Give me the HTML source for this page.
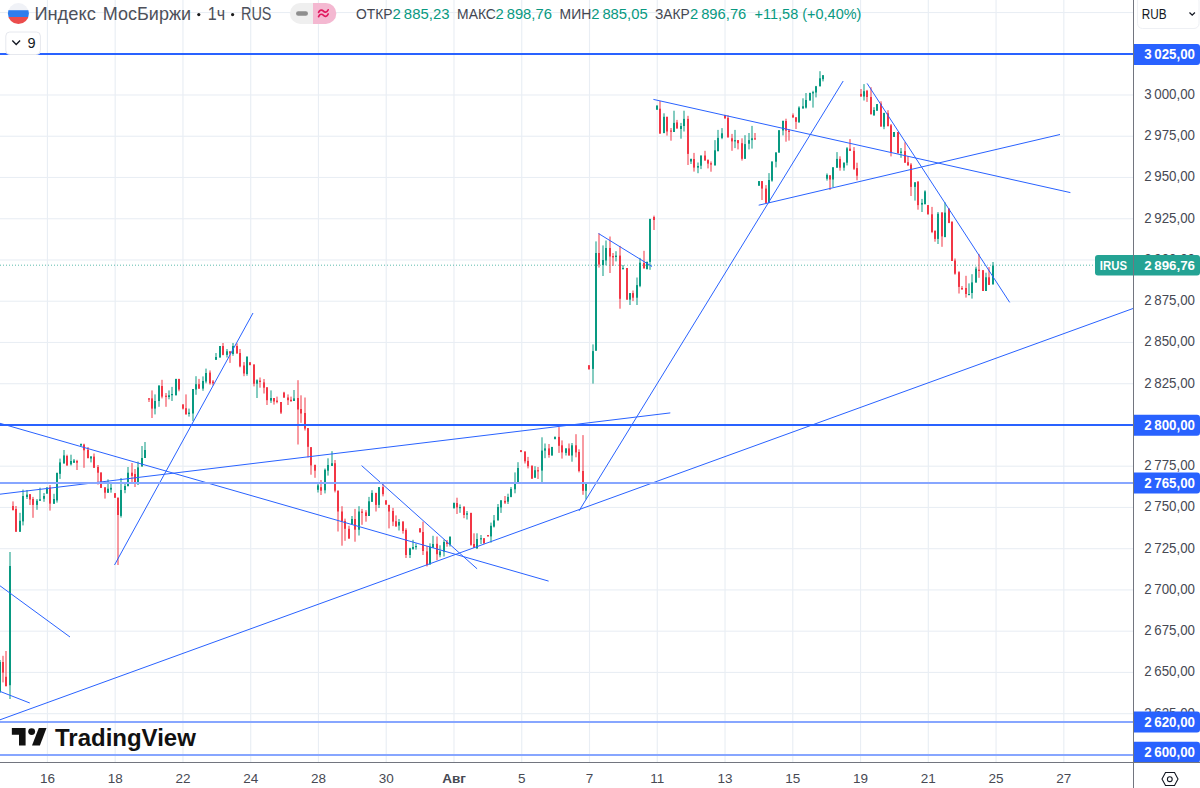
<!DOCTYPE html>
<html><head><meta charset="utf-8"><title>IMOEX 1h</title>
<style>
html,body{margin:0;padding:0;background:#ffffff;}
body{width:1200px;height:788px;overflow:hidden;font-family:"Liberation Sans",sans-serif;}
svg{display:block;}
</style></head>
<body>
<svg width="1200" height="788" viewBox="0 0 1200 788">
<rect width="1200" height="788" fill="#ffffff"/>
<rect x="46.85" y="0" width="1.15" height="762" fill="#e9eef4"/>
<rect x="114.61" y="0" width="1.15" height="762" fill="#e9eef4"/>
<rect x="182.37" y="0" width="1.15" height="762" fill="#e9eef4"/>
<rect x="250.13" y="0" width="1.15" height="762" fill="#e9eef4"/>
<rect x="317.89" y="0" width="1.15" height="762" fill="#e9eef4"/>
<rect x="385.65" y="0" width="1.15" height="762" fill="#e9eef4"/>
<rect x="453.41" y="0" width="1.15" height="762" fill="#e9eef4"/>
<rect x="521.17" y="0" width="1.15" height="762" fill="#e9eef4"/>
<rect x="588.93" y="0" width="1.15" height="762" fill="#e9eef4"/>
<rect x="656.69" y="0" width="1.15" height="762" fill="#e9eef4"/>
<rect x="724.45" y="0" width="1.15" height="762" fill="#e9eef4"/>
<rect x="792.21" y="0" width="1.15" height="762" fill="#e9eef4"/>
<rect x="859.97" y="0" width="1.15" height="762" fill="#e9eef4"/>
<rect x="927.73" y="0" width="1.15" height="762" fill="#e9eef4"/>
<rect x="995.49" y="0" width="1.15" height="762" fill="#e9eef4"/>
<rect x="1063.25" y="0" width="1.15" height="762" fill="#e9eef4"/>
<rect x="0" y="11.96" width="1133" height="1.1" fill="#e9eef4"/>
<rect x="0" y="53.20" width="1133" height="1.1" fill="#e9eef4"/>
<rect x="0" y="94.44" width="1133" height="1.1" fill="#e9eef4"/>
<rect x="0" y="135.69" width="1133" height="1.1" fill="#e9eef4"/>
<rect x="0" y="176.94" width="1133" height="1.1" fill="#e9eef4"/>
<rect x="0" y="218.18" width="1133" height="1.1" fill="#e9eef4"/>
<rect x="0" y="259.43" width="1133" height="1.1" fill="#e9eef4"/>
<rect x="0" y="300.67" width="1133" height="1.1" fill="#e9eef4"/>
<rect x="0" y="341.92" width="1133" height="1.1" fill="#e9eef4"/>
<rect x="0" y="383.16" width="1133" height="1.1" fill="#e9eef4"/>
<rect x="0" y="424.41" width="1133" height="1.1" fill="#e9eef4"/>
<rect x="0" y="465.65" width="1133" height="1.1" fill="#e9eef4"/>
<rect x="0" y="506.90" width="1133" height="1.1" fill="#e9eef4"/>
<rect x="0" y="548.14" width="1133" height="1.1" fill="#e9eef4"/>
<rect x="0" y="589.38" width="1133" height="1.1" fill="#e9eef4"/>
<rect x="0" y="630.63" width="1133" height="1.1" fill="#e9eef4"/>
<rect x="0" y="671.88" width="1133" height="1.1" fill="#e9eef4"/>
<rect x="0" y="713.12" width="1133" height="1.1" fill="#e9eef4"/>
<g shape-rendering="auto"><rect x="-0.50" y="660.00" width="1" height="33.00" fill="#089981"/>
<rect x="-1" y="662.00" width="2" height="29.00" fill="#089981"/>
<rect x="2.50" y="655.80" width="1" height="26.60" fill="#F23645"/>
<rect x="2" y="662.00" width="2" height="10.60" fill="#F23645"/>
<rect x="5.50" y="651.00" width="1" height="35.60" fill="#F23645"/>
<rect x="5" y="676.80" width="2" height="9.20" fill="#F23645"/>
<rect x="9.50" y="552.00" width="1" height="147.00" fill="#089981"/>
<rect x="9" y="566.00" width="2" height="119.20" fill="#089981"/>
<rect x="12.50" y="501.40" width="1" height="9.20" fill="#F23645"/>
<rect x="12" y="506.00" width="2" height="4.00" fill="#F23645"/>
<rect x="15.50" y="506.00" width="1" height="26.00" fill="#F23645"/>
<rect x="15" y="509.00" width="2" height="22.70" fill="#F23645"/>
<rect x="19.50" y="512.80" width="1" height="19.20" fill="#089981"/>
<rect x="19" y="520.80" width="2" height="10.90" fill="#089981"/>
<rect x="22.50" y="489.60" width="1" height="35.80" fill="#089981"/>
<rect x="22" y="496.00" width="2" height="25.40" fill="#089981"/>
<rect x="26.50" y="490.00" width="1" height="9.00" fill="#089981"/>
<rect x="26" y="494.60" width="2" height="2.40" fill="#089981"/>
<rect x="29.50" y="494.00" width="1" height="11.00" fill="#F23645"/>
<rect x="29" y="494.20" width="2" height="5.30" fill="#F23645"/>
<rect x="32.50" y="496.90" width="1" height="20.90" fill="#F23645"/>
<rect x="32" y="499.00" width="2" height="5.90" fill="#F23645"/>
<rect x="36.50" y="499.00" width="1" height="10.80" fill="#089981"/>
<rect x="36" y="500.70" width="2" height="4.20" fill="#089981"/>
<rect x="39.50" y="487.70" width="1" height="13.30" fill="#089981"/>
<rect x="39" y="499.30" width="2" height="1.40" fill="#089981"/>
<rect x="43.50" y="493.00" width="1" height="8.80" fill="#089981"/>
<rect x="43" y="496.00" width="2" height="2.80" fill="#089981"/>
<rect x="46.50" y="487.00" width="1" height="7.00" fill="#089981"/>
<rect x="46" y="487.70" width="2" height="5.80" fill="#089981"/>
<rect x="49.50" y="485.00" width="1" height="25.60" fill="#F23645"/>
<rect x="49" y="487.40" width="2" height="16.20" fill="#F23645"/>
<rect x="53.50" y="493.80" width="1" height="10.20" fill="#089981"/>
<rect x="53" y="499.00" width="2" height="4.70" fill="#089981"/>
<rect x="56.50" y="472.50" width="1" height="30.10" fill="#089981"/>
<rect x="56" y="473.00" width="2" height="27.40" fill="#089981"/>
<rect x="59.50" y="458.60" width="1" height="20.30" fill="#089981"/>
<rect x="59" y="462.40" width="2" height="11.40" fill="#089981"/>
<rect x="63.50" y="450.00" width="1" height="14.00" fill="#089981"/>
<rect x="63" y="455.40" width="2" height="7.80" fill="#089981"/>
<rect x="66.50" y="454.70" width="1" height="11.30" fill="#F23645"/>
<rect x="66" y="456.00" width="2" height="9.30" fill="#F23645"/>
<rect x="70.50" y="454.70" width="1" height="10.80" fill="#089981"/>
<rect x="70" y="461.00" width="2" height="3.30" fill="#089981"/>
<rect x="73.50" y="459.00" width="1" height="4.00" fill="#089981"/>
<rect x="73" y="460.50" width="2" height="2.20" fill="#089981"/>
<rect x="76.50" y="459.80" width="1" height="10.20" fill="#F23645"/>
<rect x="76" y="461.00" width="2" height="1.70" fill="#F23645"/>
<rect x="80.50" y="443.50" width="1" height="2.50" fill="#089981"/>
<rect x="80" y="444.00" width="2" height="1.50" fill="#089981"/>
<rect x="83.50" y="443.70" width="1" height="24.10" fill="#F23645"/>
<rect x="83" y="444.60" width="2" height="5.70" fill="#F23645"/>
<rect x="87.50" y="447.00" width="1" height="11.50" fill="#F23645"/>
<rect x="87" y="449.70" width="2" height="8.30" fill="#F23645"/>
<rect x="90.50" y="456.00" width="1" height="6.40" fill="#089981"/>
<rect x="90" y="456.60" width="2" height="1.90" fill="#089981"/>
<rect x="93.50" y="453.50" width="1" height="14.30" fill="#F23645"/>
<rect x="93" y="456.60" width="2" height="11.20" fill="#F23645"/>
<rect x="97.50" y="465.00" width="1" height="19.60" fill="#F23645"/>
<rect x="97" y="467.00" width="2" height="5.70" fill="#F23645"/>
<rect x="100.50" y="472.00" width="1" height="16.00" fill="#F23645"/>
<rect x="100" y="472.70" width="2" height="15.10" fill="#F23645"/>
<rect x="104.50" y="487.00" width="1" height="11.60" fill="#F23645"/>
<rect x="104" y="487.40" width="2" height="5.30" fill="#F23645"/>
<rect x="107.50" y="479.40" width="1" height="13.60" fill="#089981"/>
<rect x="107" y="488.70" width="2" height="4.00" fill="#089981"/>
<rect x="110.50" y="483.00" width="1" height="9.70" fill="#089981"/>
<rect x="110" y="487.80" width="2" height="1.80" fill="#089981"/>
<rect x="114.50" y="493.00" width="1" height="5.00" fill="#F23645"/>
<rect x="114" y="493.20" width="2" height="4.50" fill="#F23645"/>
<rect x="117.50" y="497.60" width="1" height="67.40" fill="#F23645"/>
<rect x="117" y="497.70" width="2" height="17.30" fill="#F23645"/>
<rect x="120.50" y="478.00" width="1" height="39.60" fill="#089981"/>
<rect x="120" y="490.00" width="2" height="25.90" fill="#089981"/>
<rect x="124.50" y="483.00" width="1" height="10.20" fill="#089981"/>
<rect x="124" y="486.00" width="2" height="4.00" fill="#089981"/>
<rect x="127.50" y="467.00" width="1" height="19.50" fill="#089981"/>
<rect x="127" y="472.70" width="2" height="13.30" fill="#089981"/>
<rect x="131.50" y="463.00" width="1" height="20.80" fill="#F23645"/>
<rect x="131" y="472.70" width="2" height="3.20" fill="#F23645"/>
<rect x="134.50" y="469.00" width="1" height="18.00" fill="#F23645"/>
<rect x="134" y="474.00" width="2" height="9.00" fill="#F23645"/>
<rect x="137.50" y="461.60" width="1" height="23.10" fill="#089981"/>
<rect x="137" y="467.40" width="2" height="16.90" fill="#089981"/>
<rect x="141.50" y="446.00" width="1" height="20.50" fill="#089981"/>
<rect x="141" y="458.00" width="2" height="8.50" fill="#089981"/>
<rect x="144.50" y="442.00" width="1" height="16.00" fill="#089981"/>
<rect x="144" y="450.00" width="2" height="8.00" fill="#089981"/>
<rect x="148.50" y="398.00" width="1" height="4.00" fill="#F23645"/>
<rect x="148" y="398.40" width="2" height="1.20" fill="#F23645"/>
<rect x="151.50" y="390.40" width="1" height="27.60" fill="#F23645"/>
<rect x="151" y="398.40" width="2" height="10.20" fill="#F23645"/>
<rect x="154.50" y="394.40" width="1" height="20.00" fill="#089981"/>
<rect x="154" y="401.00" width="2" height="7.60" fill="#089981"/>
<rect x="158.50" y="385.50" width="1" height="21.30" fill="#089981"/>
<rect x="158" y="385.50" width="2" height="15.50" fill="#089981"/>
<rect x="161.50" y="379.80" width="1" height="18.60" fill="#F23645"/>
<rect x="161" y="386.00" width="2" height="10.60" fill="#F23645"/>
<rect x="165.50" y="393.00" width="1" height="13.80" fill="#F23645"/>
<rect x="165" y="395.70" width="2" height="1.20" fill="#F23645"/>
<rect x="168.50" y="390.40" width="1" height="8.90" fill="#089981"/>
<rect x="168" y="395.30" width="2" height="1.70" fill="#089981"/>
<rect x="171.50" y="386.90" width="1" height="14.10" fill="#089981"/>
<rect x="171" y="394.00" width="2" height="1.20" fill="#089981"/>
<rect x="175.50" y="378.90" width="1" height="16.40" fill="#089981"/>
<rect x="175" y="378.90" width="2" height="16.40" fill="#089981"/>
<rect x="178.50" y="378.90" width="1" height="12.40" fill="#F23645"/>
<rect x="178" y="378.90" width="2" height="10.60" fill="#F23645"/>
<rect x="182.50" y="404.00" width="1" height="5.50" fill="#F23645"/>
<rect x="182" y="404.60" width="2" height="4.00" fill="#F23645"/>
<rect x="185.50" y="394.40" width="1" height="20.00" fill="#F23645"/>
<rect x="185" y="408.20" width="2" height="6.20" fill="#F23645"/>
<rect x="188.50" y="408.60" width="1" height="8.00" fill="#089981"/>
<rect x="188" y="412.60" width="2" height="1.40" fill="#089981"/>
<rect x="192.50" y="389.00" width="1" height="32.00" fill="#089981"/>
<rect x="192" y="389.00" width="2" height="24.50" fill="#089981"/>
<rect x="195.50" y="376.20" width="1" height="18.60" fill="#089981"/>
<rect x="195" y="384.20" width="2" height="5.30" fill="#089981"/>
<rect x="198.50" y="378.90" width="1" height="10.10" fill="#F23645"/>
<rect x="198" y="384.20" width="2" height="4.40" fill="#F23645"/>
<rect x="202.50" y="376.40" width="1" height="14.40" fill="#089981"/>
<rect x="202" y="381.00" width="2" height="7.60" fill="#089981"/>
<rect x="205.50" y="368.60" width="1" height="14.70" fill="#089981"/>
<rect x="205" y="373.00" width="2" height="8.50" fill="#089981"/>
<rect x="209.50" y="370.40" width="1" height="14.20" fill="#F23645"/>
<rect x="209" y="372.60" width="2" height="10.70" fill="#F23645"/>
<rect x="212.50" y="380.00" width="1" height="5.50" fill="#F23645"/>
<rect x="212" y="381.50" width="2" height="1.80" fill="#F23645"/>
<rect x="215.50" y="353.00" width="1" height="6.80" fill="#089981"/>
<rect x="215" y="357.00" width="2" height="2.80" fill="#089981"/>
<rect x="219.50" y="346.00" width="1" height="11.50" fill="#089981"/>
<rect x="219" y="346.00" width="2" height="11.50" fill="#089981"/>
<rect x="222.50" y="343.00" width="1" height="12.30" fill="#F23645"/>
<rect x="222" y="346.00" width="2" height="8.90" fill="#F23645"/>
<rect x="226.50" y="349.00" width="1" height="8.50" fill="#089981"/>
<rect x="226" y="351.30" width="2" height="3.60" fill="#089981"/>
<rect x="229.50" y="351.30" width="1" height="11.60" fill="#F23645"/>
<rect x="229" y="351.30" width="2" height="2.20" fill="#F23645"/>
<rect x="232.50" y="343.00" width="1" height="12.80" fill="#089981"/>
<rect x="232" y="346.00" width="2" height="8.00" fill="#089981"/>
<rect x="236.50" y="343.30" width="1" height="10.20" fill="#F23645"/>
<rect x="236" y="346.00" width="2" height="7.50" fill="#F23645"/>
<rect x="239.50" y="349.00" width="1" height="18.30" fill="#F23645"/>
<rect x="239" y="353.00" width="2" height="13.40" fill="#F23645"/>
<rect x="243.50" y="362.00" width="1" height="14.20" fill="#F23645"/>
<rect x="243" y="365.50" width="2" height="8.00" fill="#F23645"/>
<rect x="246.50" y="356.60" width="1" height="19.10" fill="#089981"/>
<rect x="246" y="356.60" width="2" height="17.40" fill="#089981"/>
<rect x="249.50" y="362.00" width="1" height="3.40" fill="#F23645"/>
<rect x="249" y="362.40" width="2" height="2.60" fill="#F23645"/>
<rect x="253.50" y="364.20" width="1" height="22.20" fill="#F23645"/>
<rect x="253" y="364.60" width="2" height="19.10" fill="#F23645"/>
<rect x="256.50" y="379.30" width="1" height="18.70" fill="#089981"/>
<rect x="256" y="380.20" width="2" height="3.50" fill="#089981"/>
<rect x="259.50" y="377.50" width="1" height="10.20" fill="#F23645"/>
<rect x="259" y="380.60" width="2" height="1.40" fill="#F23645"/>
<rect x="263.50" y="379.00" width="1" height="14.50" fill="#F23645"/>
<rect x="263" y="382.40" width="2" height="5.30" fill="#F23645"/>
<rect x="266.50" y="387.30" width="1" height="17.70" fill="#F23645"/>
<rect x="266" y="387.30" width="2" height="12.90" fill="#F23645"/>
<rect x="270.50" y="390.40" width="1" height="12.50" fill="#089981"/>
<rect x="270" y="398.00" width="2" height="2.60" fill="#089981"/>
<rect x="273.50" y="398.00" width="1" height="6.60" fill="#F23645"/>
<rect x="273" y="398.00" width="2" height="3.50" fill="#F23645"/>
<rect x="276.50" y="396.60" width="1" height="6.70" fill="#F23645"/>
<rect x="276" y="400.60" width="2" height="1.40" fill="#F23645"/>
<rect x="280.50" y="402.00" width="1" height="12.00" fill="#F23645"/>
<rect x="280" y="402.00" width="2" height="10.60" fill="#F23645"/>
<rect x="283.50" y="391.80" width="1" height="6.20" fill="#F23645"/>
<rect x="283" y="392.60" width="2" height="4.90" fill="#F23645"/>
<rect x="287.50" y="394.40" width="1" height="10.60" fill="#F23645"/>
<rect x="287" y="397.50" width="2" height="2.70" fill="#F23645"/>
<rect x="290.50" y="396.60" width="1" height="5.40" fill="#F23645"/>
<rect x="290" y="399.80" width="2" height="1.20" fill="#F23645"/>
<rect x="293.50" y="390.00" width="1" height="11.00" fill="#089981"/>
<rect x="293" y="398.40" width="2" height="2.60" fill="#089981"/>
<rect x="297.50" y="380.20" width="1" height="64.30" fill="#F23645"/>
<rect x="297" y="398.00" width="2" height="11.50" fill="#F23645"/>
<rect x="300.50" y="395.30" width="1" height="27.50" fill="#F23645"/>
<rect x="300" y="409.00" width="2" height="4.50" fill="#F23645"/>
<rect x="304.50" y="397.50" width="1" height="33.00" fill="#F23645"/>
<rect x="304" y="413.00" width="2" height="15.60" fill="#F23645"/>
<rect x="307.50" y="428.00" width="1" height="29.40" fill="#F23645"/>
<rect x="307" y="428.10" width="2" height="18.70" fill="#F23645"/>
<rect x="310.50" y="447.00" width="1" height="27.70" fill="#F23645"/>
<rect x="310" y="447.20" width="2" height="18.20" fill="#F23645"/>
<rect x="314.50" y="464.50" width="1" height="13.30" fill="#F23645"/>
<rect x="314" y="465.00" width="2" height="5.70" fill="#F23645"/>
<rect x="317.50" y="484.00" width="1" height="8.50" fill="#089981"/>
<rect x="317" y="485.40" width="2" height="4.40" fill="#089981"/>
<rect x="320.50" y="480.00" width="1" height="15.00" fill="#F23645"/>
<rect x="320" y="487.20" width="2" height="3.50" fill="#F23645"/>
<rect x="324.50" y="468.50" width="1" height="24.90" fill="#089981"/>
<rect x="324" y="469.80" width="2" height="20.50" fill="#089981"/>
<rect x="327.50" y="458.30" width="1" height="17.30" fill="#089981"/>
<rect x="327" y="465.00" width="2" height="5.70" fill="#089981"/>
<rect x="331.50" y="451.20" width="1" height="14.70" fill="#089981"/>
<rect x="331" y="463.20" width="2" height="2.70" fill="#089981"/>
<rect x="334.50" y="460.00" width="1" height="32.40" fill="#F23645"/>
<rect x="334" y="463.20" width="2" height="27.50" fill="#F23645"/>
<rect x="337.50" y="490.50" width="1" height="41.00" fill="#F23645"/>
<rect x="337" y="490.70" width="2" height="20.80" fill="#F23645"/>
<rect x="341.50" y="506.20" width="1" height="39.50" fill="#F23645"/>
<rect x="341" y="511.50" width="2" height="9.80" fill="#F23645"/>
<rect x="344.50" y="518.60" width="1" height="22.20" fill="#F23645"/>
<rect x="344" y="520.90" width="2" height="7.90" fill="#F23645"/>
<rect x="348.50" y="525.70" width="1" height="12.90" fill="#F23645"/>
<rect x="348" y="528.80" width="2" height="9.80" fill="#F23645"/>
<rect x="351.50" y="516.00" width="1" height="8.40" fill="#089981"/>
<rect x="351" y="519.00" width="2" height="5.40" fill="#089981"/>
<rect x="354.50" y="508.90" width="1" height="32.80" fill="#F23645"/>
<rect x="354" y="519.00" width="2" height="10.70" fill="#F23645"/>
<rect x="358.50" y="506.20" width="1" height="29.30" fill="#089981"/>
<rect x="358" y="511.50" width="2" height="18.20" fill="#089981"/>
<rect x="361.50" y="508.90" width="1" height="15.90" fill="#F23645"/>
<rect x="361" y="511.50" width="2" height="1.40" fill="#F23645"/>
<rect x="365.50" y="510.20" width="1" height="11.50" fill="#F23645"/>
<rect x="365" y="512.40" width="2" height="3.60" fill="#F23645"/>
<rect x="368.50" y="496.90" width="1" height="19.10" fill="#089981"/>
<rect x="368" y="501.30" width="2" height="14.70" fill="#089981"/>
<rect x="371.50" y="490.20" width="1" height="11.60" fill="#089981"/>
<rect x="371" y="492.90" width="2" height="8.90" fill="#089981"/>
<rect x="375.50" y="492.90" width="1" height="18.60" fill="#F23645"/>
<rect x="375" y="492.90" width="2" height="12.00" fill="#F23645"/>
<rect x="378.50" y="487.10" width="1" height="20.90" fill="#089981"/>
<rect x="378" y="487.10" width="2" height="17.80" fill="#089981"/>
<rect x="382.50" y="483.60" width="1" height="12.80" fill="#F23645"/>
<rect x="382" y="487.10" width="2" height="7.10" fill="#F23645"/>
<rect x="385.50" y="500.00" width="1" height="5.00" fill="#F23645"/>
<rect x="385" y="500.40" width="2" height="4.00" fill="#F23645"/>
<rect x="388.50" y="504.90" width="1" height="23.50" fill="#F23645"/>
<rect x="388" y="504.90" width="2" height="6.60" fill="#F23645"/>
<rect x="392.50" y="507.90" width="1" height="18.20" fill="#F23645"/>
<rect x="392" y="511.00" width="2" height="10.60" fill="#F23645"/>
<rect x="395.50" y="515.40" width="1" height="11.10" fill="#F23645"/>
<rect x="395" y="521.20" width="2" height="5.30" fill="#F23645"/>
<rect x="398.50" y="519.00" width="1" height="11.50" fill="#089981"/>
<rect x="398" y="522.00" width="2" height="3.60" fill="#089981"/>
<rect x="402.50" y="521.20" width="1" height="12.40" fill="#F23645"/>
<rect x="402" y="521.60" width="2" height="9.40" fill="#F23645"/>
<rect x="405.50" y="528.30" width="1" height="29.70" fill="#F23645"/>
<rect x="405" y="530.00" width="2" height="25.00" fill="#F23645"/>
<rect x="409.50" y="547.80" width="1" height="10.20" fill="#089981"/>
<rect x="409" y="548.30" width="2" height="6.70" fill="#089981"/>
<rect x="412.50" y="539.80" width="1" height="9.80" fill="#089981"/>
<rect x="412" y="547.00" width="2" height="2.10" fill="#089981"/>
<rect x="415.50" y="543.40" width="1" height="6.20" fill="#089981"/>
<rect x="415" y="546.00" width="2" height="1.20" fill="#089981"/>
<rect x="419.50" y="528.00" width="1" height="4.50" fill="#F23645"/>
<rect x="419" y="528.30" width="2" height="4.00" fill="#F23645"/>
<rect x="422.50" y="521.60" width="1" height="33.40" fill="#F23645"/>
<rect x="422" y="532.00" width="2" height="19.00" fill="#F23645"/>
<rect x="426.50" y="546.00" width="1" height="20.40" fill="#F23645"/>
<rect x="426" y="551.40" width="2" height="13.70" fill="#F23645"/>
<rect x="429.50" y="543.30" width="1" height="21.30" fill="#089981"/>
<rect x="429" y="546.70" width="2" height="17.70" fill="#089981"/>
<rect x="432.50" y="535.80" width="1" height="12.20" fill="#089981"/>
<rect x="432" y="544.00" width="2" height="3.60" fill="#089981"/>
<rect x="436.50" y="536.50" width="1" height="23.70" fill="#F23645"/>
<rect x="436" y="543.80" width="2" height="10.40" fill="#F23645"/>
<rect x="439.50" y="545.30" width="1" height="12.00" fill="#089981"/>
<rect x="439" y="551.40" width="2" height="3.80" fill="#089981"/>
<rect x="443.50" y="539.60" width="1" height="16.90" fill="#089981"/>
<rect x="443" y="542.00" width="2" height="9.60" fill="#089981"/>
<rect x="446.50" y="540.00" width="1" height="6.70" fill="#F23645"/>
<rect x="446" y="542.20" width="2" height="1.80" fill="#F23645"/>
<rect x="449.50" y="536.50" width="1" height="10.00" fill="#089981"/>
<rect x="449" y="536.70" width="2" height="8.00" fill="#089981"/>
<rect x="453.50" y="502.50" width="1" height="5.80" fill="#089981"/>
<rect x="453" y="503.00" width="2" height="5.30" fill="#089981"/>
<rect x="456.50" y="497.70" width="1" height="16.30" fill="#F23645"/>
<rect x="456" y="503.00" width="2" height="4.40" fill="#F23645"/>
<rect x="459.50" y="504.40" width="1" height="8.40" fill="#089981"/>
<rect x="459" y="507.00" width="2" height="1.20" fill="#089981"/>
<rect x="463.50" y="506.60" width="1" height="11.60" fill="#F23645"/>
<rect x="463" y="506.60" width="2" height="8.40" fill="#F23645"/>
<rect x="466.50" y="511.00" width="1" height="8.50" fill="#089981"/>
<rect x="466" y="513.30" width="2" height="1.40" fill="#089981"/>
<rect x="470.50" y="512.80" width="1" height="32.90" fill="#F23645"/>
<rect x="470" y="512.90" width="2" height="31.90" fill="#F23645"/>
<rect x="473.50" y="533.30" width="1" height="14.70" fill="#F23645"/>
<rect x="473" y="544.00" width="2" height="3.50" fill="#F23645"/>
<rect x="476.50" y="533.30" width="1" height="15.50" fill="#089981"/>
<rect x="476" y="539.00" width="2" height="9.40" fill="#089981"/>
<rect x="480.50" y="535.00" width="1" height="9.00" fill="#089981"/>
<rect x="480" y="538.20" width="2" height="1.20" fill="#089981"/>
<rect x="483.50" y="538.20" width="1" height="5.40" fill="#F23645"/>
<rect x="483" y="538.20" width="2" height="5.30" fill="#F23645"/>
<rect x="487.50" y="535.00" width="1" height="1.50" fill="#F23645"/>
<rect x="487" y="535.00" width="2" height="1.40" fill="#F23645"/>
<rect x="490.50" y="522.60" width="1" height="20.00" fill="#089981"/>
<rect x="490" y="525.80" width="2" height="10.60" fill="#089981"/>
<rect x="493.50" y="515.00" width="1" height="12.50" fill="#089981"/>
<rect x="493" y="520.40" width="2" height="6.20" fill="#089981"/>
<rect x="497.50" y="504.00" width="1" height="16.40" fill="#089981"/>
<rect x="497" y="507.00" width="2" height="13.40" fill="#089981"/>
<rect x="500.50" y="500.00" width="1" height="12.90" fill="#089981"/>
<rect x="500" y="500.40" width="2" height="7.10" fill="#089981"/>
<rect x="504.50" y="496.00" width="1" height="8.00" fill="#F23645"/>
<rect x="504" y="500.90" width="2" height="1.70" fill="#F23645"/>
<rect x="507.50" y="493.70" width="1" height="10.30" fill="#089981"/>
<rect x="507" y="496.90" width="2" height="4.80" fill="#089981"/>
<rect x="510.50" y="487.00" width="1" height="10.30" fill="#089981"/>
<rect x="510" y="488.90" width="2" height="8.00" fill="#089981"/>
<rect x="514.50" y="472.40" width="1" height="20.90" fill="#089981"/>
<rect x="514" y="482.20" width="2" height="7.10" fill="#089981"/>
<rect x="517.50" y="462.20" width="1" height="20.80" fill="#089981"/>
<rect x="517" y="468.00" width="2" height="14.40" fill="#089981"/>
<rect x="520.50" y="450.20" width="1" height="2.00" fill="#F23645"/>
<rect x="520" y="450.20" width="2" height="1.80" fill="#F23645"/>
<rect x="524.50" y="451.50" width="1" height="12.00" fill="#F23645"/>
<rect x="524" y="451.50" width="2" height="9.80" fill="#F23645"/>
<rect x="527.50" y="456.90" width="1" height="11.50" fill="#F23645"/>
<rect x="527" y="460.90" width="2" height="5.30" fill="#F23645"/>
<rect x="531.50" y="465.50" width="1" height="13.50" fill="#F23645"/>
<rect x="531" y="465.70" width="2" height="12.90" fill="#F23645"/>
<rect x="534.50" y="466.20" width="1" height="11.50" fill="#089981"/>
<rect x="534" y="470.20" width="2" height="7.50" fill="#089981"/>
<rect x="537.50" y="467.00" width="1" height="12.00" fill="#F23645"/>
<rect x="537" y="470.20" width="2" height="1.20" fill="#F23645"/>
<rect x="541.50" y="437.30" width="1" height="45.30" fill="#089981"/>
<rect x="541" y="450.60" width="2" height="20.00" fill="#089981"/>
<rect x="544.50" y="443.50" width="1" height="14.70" fill="#089981"/>
<rect x="544" y="448.40" width="2" height="2.20" fill="#089981"/>
<rect x="548.50" y="444.00" width="1" height="13.70" fill="#F23645"/>
<rect x="548" y="448.40" width="2" height="6.60" fill="#F23645"/>
<rect x="551.50" y="446.80" width="1" height="8.80" fill="#089981"/>
<rect x="551" y="447.00" width="2" height="8.50" fill="#089981"/>
<rect x="554.50" y="436.50" width="1" height="2.80" fill="#089981"/>
<rect x="554" y="436.90" width="2" height="2.20" fill="#089981"/>
<rect x="558.50" y="427.10" width="1" height="25.80" fill="#F23645"/>
<rect x="558" y="436.90" width="2" height="8.90" fill="#F23645"/>
<rect x="561.50" y="440.40" width="1" height="18.20" fill="#F23645"/>
<rect x="561" y="445.30" width="2" height="7.10" fill="#F23645"/>
<rect x="565.50" y="448.40" width="1" height="7.10" fill="#089981"/>
<rect x="565" y="448.40" width="2" height="4.50" fill="#089981"/>
<rect x="568.50" y="443.50" width="1" height="12.00" fill="#F23645"/>
<rect x="568" y="448.40" width="2" height="7.10" fill="#F23645"/>
<rect x="571.50" y="443.00" width="1" height="18.70" fill="#089981"/>
<rect x="571" y="445.30" width="2" height="10.20" fill="#089981"/>
<rect x="575.50" y="434.20" width="1" height="23.10" fill="#F23645"/>
<rect x="575" y="445.30" width="2" height="7.10" fill="#F23645"/>
<rect x="578.50" y="449.30" width="1" height="23.10" fill="#F23645"/>
<rect x="578" y="452.00" width="2" height="19.00" fill="#F23645"/>
<rect x="582.50" y="435.10" width="1" height="59.70" fill="#F23645"/>
<rect x="582" y="471.00" width="2" height="19.80" fill="#F23645"/>
<rect x="585.50" y="482.60" width="1" height="16.80" fill="#089981"/>
<rect x="585" y="482.60" width="2" height="8.20" fill="#089981"/>
<rect x="588.50" y="365.00" width="1" height="4.50" fill="#F23645"/>
<rect x="588" y="365.30" width="2" height="4.00" fill="#F23645"/>
<rect x="592.50" y="344.40" width="1" height="39.20" fill="#089981"/>
<rect x="592" y="351.10" width="2" height="17.80" fill="#089981"/>
<rect x="595.50" y="241.40" width="1" height="109.40" fill="#089981"/>
<rect x="595" y="253.00" width="2" height="97.70" fill="#089981"/>
<rect x="598.50" y="233.40" width="1" height="34.20" fill="#F23645"/>
<rect x="598" y="253.00" width="2" height="11.50" fill="#F23645"/>
<rect x="602.50" y="245.40" width="1" height="30.60" fill="#089981"/>
<rect x="602" y="260.00" width="2" height="5.00" fill="#089981"/>
<rect x="605.50" y="240.50" width="1" height="24.90" fill="#089981"/>
<rect x="605" y="248.00" width="2" height="12.50" fill="#089981"/>
<rect x="609.50" y="236.50" width="1" height="36.50" fill="#F23645"/>
<rect x="609" y="248.00" width="2" height="8.50" fill="#F23645"/>
<rect x="612.50" y="253.00" width="1" height="12.90" fill="#F23645"/>
<rect x="612" y="256.00" width="2" height="1.40" fill="#F23645"/>
<rect x="615.50" y="251.20" width="1" height="10.20" fill="#089981"/>
<rect x="615" y="255.60" width="2" height="1.40" fill="#089981"/>
<rect x="619.50" y="245.90" width="1" height="62.80" fill="#F23645"/>
<rect x="619" y="255.60" width="2" height="43.20" fill="#F23645"/>
<rect x="622.50" y="265.00" width="1" height="4.40" fill="#089981"/>
<rect x="622" y="268.00" width="2" height="1.20" fill="#089981"/>
<rect x="626.50" y="268.00" width="1" height="31.80" fill="#F23645"/>
<rect x="626" y="268.00" width="2" height="31.60" fill="#F23645"/>
<rect x="629.50" y="293.00" width="1" height="12.00" fill="#089981"/>
<rect x="629" y="293.10" width="2" height="6.50" fill="#089981"/>
<rect x="632.50" y="290.50" width="1" height="10.60" fill="#F23645"/>
<rect x="632" y="293.10" width="2" height="4.60" fill="#F23645"/>
<rect x="636.50" y="277.50" width="1" height="27.50" fill="#089981"/>
<rect x="636" y="285.10" width="2" height="12.60" fill="#089981"/>
<rect x="639.50" y="257.90" width="1" height="29.30" fill="#089981"/>
<rect x="639" y="262.70" width="2" height="23.20" fill="#089981"/>
<rect x="643.50" y="250.80" width="1" height="17.70" fill="#F23645"/>
<rect x="643" y="263.00" width="2" height="5.40" fill="#F23645"/>
<rect x="646.50" y="261.40" width="1" height="8.00" fill="#089981"/>
<rect x="646" y="262.00" width="2" height="7.10" fill="#089981"/>
<rect x="649.50" y="218.70" width="1" height="51.10" fill="#089981"/>
<rect x="649" y="219.00" width="2" height="42.90" fill="#089981"/>
<rect x="653.50" y="215.60" width="1" height="14.40" fill="#F23645"/>
<rect x="653" y="217.00" width="2" height="3.00" fill="#F23645"/>
<rect x="656.50" y="105.20" width="1" height="4.50" fill="#089981"/>
<rect x="656" y="105.70" width="2" height="4.00" fill="#089981"/>
<rect x="659.50" y="101.00" width="1" height="32.60" fill="#F23645"/>
<rect x="659" y="108.70" width="2" height="24.90" fill="#F23645"/>
<rect x="663.50" y="113.30" width="1" height="19.80" fill="#089981"/>
<rect x="663" y="116.80" width="2" height="16.30" fill="#089981"/>
<rect x="666.50" y="116.80" width="1" height="18.80" fill="#F23645"/>
<rect x="666" y="116.80" width="2" height="14.70" fill="#F23645"/>
<rect x="670.50" y="128.00" width="1" height="12.70" fill="#F23645"/>
<rect x="670" y="130.50" width="2" height="1.20" fill="#F23645"/>
<rect x="673.50" y="110.70" width="1" height="21.30" fill="#089981"/>
<rect x="673" y="122.90" width="2" height="9.10" fill="#089981"/>
<rect x="676.50" y="119.90" width="1" height="8.60" fill="#F23645"/>
<rect x="676" y="122.40" width="2" height="6.10" fill="#F23645"/>
<rect x="680.50" y="122.90" width="1" height="15.80" fill="#089981"/>
<rect x="680" y="126.00" width="2" height="3.00" fill="#089981"/>
<rect x="683.50" y="110.70" width="1" height="20.80" fill="#089981"/>
<rect x="683" y="118.90" width="2" height="7.10" fill="#089981"/>
<rect x="687.50" y="115.80" width="1" height="49.20" fill="#F23645"/>
<rect x="687" y="118.90" width="2" height="35.00" fill="#F23645"/>
<rect x="690.50" y="158.50" width="1" height="5.50" fill="#089981"/>
<rect x="690" y="159.00" width="2" height="2.50" fill="#089981"/>
<rect x="693.50" y="152.90" width="1" height="18.70" fill="#F23645"/>
<rect x="693" y="159.00" width="2" height="8.60" fill="#F23645"/>
<rect x="697.50" y="162.50" width="1" height="10.70" fill="#089981"/>
<rect x="697" y="166.00" width="2" height="1.60" fill="#089981"/>
<rect x="700.50" y="155.40" width="1" height="13.70" fill="#089981"/>
<rect x="700" y="155.60" width="2" height="10.10" fill="#089981"/>
<rect x="704.50" y="150.80" width="1" height="9.80" fill="#F23645"/>
<rect x="704" y="155.50" width="2" height="5.00" fill="#F23645"/>
<rect x="707.50" y="159.30" width="1" height="9.10" fill="#F23645"/>
<rect x="707" y="160.10" width="2" height="3.50" fill="#F23645"/>
<rect x="710.50" y="161.40" width="1" height="10.30" fill="#F23645"/>
<rect x="710" y="163.20" width="2" height="1.40" fill="#F23645"/>
<rect x="714.50" y="140.10" width="1" height="25.30" fill="#089981"/>
<rect x="714" y="150.30" width="2" height="15.10" fill="#089981"/>
<rect x="717.50" y="129.90" width="1" height="21.30" fill="#089981"/>
<rect x="717" y="137.90" width="2" height="13.30" fill="#089981"/>
<rect x="721.50" y="128.10" width="1" height="11.10" fill="#089981"/>
<rect x="721" y="133.30" width="2" height="4.60" fill="#089981"/>
<rect x="724.50" y="114.80" width="1" height="4.00" fill="#F23645"/>
<rect x="724" y="115.20" width="2" height="3.10" fill="#F23645"/>
<rect x="727.50" y="115.20" width="1" height="22.20" fill="#F23645"/>
<rect x="727" y="117.90" width="2" height="19.50" fill="#F23645"/>
<rect x="731.50" y="133.90" width="1" height="16.90" fill="#F23645"/>
<rect x="731" y="138.30" width="2" height="3.10" fill="#F23645"/>
<rect x="734.50" y="129.90" width="1" height="18.20" fill="#089981"/>
<rect x="734" y="140.10" width="2" height="1.30" fill="#089981"/>
<rect x="737.50" y="140.10" width="1" height="9.30" fill="#F23645"/>
<rect x="737" y="140.10" width="2" height="3.10" fill="#F23645"/>
<rect x="741.50" y="138.30" width="1" height="22.30" fill="#F23645"/>
<rect x="741" y="143.20" width="2" height="15.60" fill="#F23645"/>
<rect x="744.50" y="135.20" width="1" height="23.60" fill="#089981"/>
<rect x="744" y="144.10" width="2" height="14.70" fill="#089981"/>
<rect x="748.50" y="133.00" width="1" height="16.40" fill="#089981"/>
<rect x="748" y="140.10" width="2" height="3.60" fill="#089981"/>
<rect x="751.50" y="125.90" width="1" height="22.70" fill="#089981"/>
<rect x="751" y="138.30" width="2" height="1.80" fill="#089981"/>
<rect x="754.50" y="133.00" width="1" height="6.70" fill="#F23645"/>
<rect x="754" y="138.30" width="2" height="1.20" fill="#F23645"/>
<rect x="758.50" y="181.10" width="1" height="4.60" fill="#089981"/>
<rect x="758" y="181.10" width="2" height="4.60" fill="#089981"/>
<rect x="761.50" y="181.10" width="1" height="18.90" fill="#F23645"/>
<rect x="761" y="181.10" width="2" height="7.50" fill="#F23645"/>
<rect x="765.50" y="185.10" width="1" height="17.80" fill="#F23645"/>
<rect x="765" y="188.60" width="2" height="14.30" fill="#F23645"/>
<rect x="768.50" y="173.10" width="1" height="29.80" fill="#089981"/>
<rect x="768" y="180.00" width="2" height="22.90" fill="#089981"/>
<rect x="771.50" y="161.10" width="1" height="20.60" fill="#089981"/>
<rect x="771" y="161.70" width="2" height="18.90" fill="#089981"/>
<rect x="775.50" y="152.00" width="1" height="15.40" fill="#089981"/>
<rect x="775" y="152.60" width="2" height="9.10" fill="#089981"/>
<rect x="778.50" y="130.00" width="1" height="22.60" fill="#089981"/>
<rect x="778" y="130.30" width="2" height="22.30" fill="#089981"/>
<rect x="782.50" y="120.50" width="1" height="14.90" fill="#089981"/>
<rect x="782" y="121.00" width="2" height="9.50" fill="#089981"/>
<rect x="785.50" y="118.70" width="1" height="23.00" fill="#F23645"/>
<rect x="785" y="121.00" width="2" height="9.70" fill="#F23645"/>
<rect x="788.50" y="129.00" width="1" height="11.60" fill="#F23645"/>
<rect x="788" y="130.50" width="2" height="1.50" fill="#F23645"/>
<rect x="792.50" y="113.40" width="1" height="4.40" fill="#F23645"/>
<rect x="792" y="115.20" width="2" height="2.20" fill="#F23645"/>
<rect x="795.50" y="117.00" width="1" height="12.00" fill="#F23645"/>
<rect x="795" y="117.40" width="2" height="4.40" fill="#F23645"/>
<rect x="798.50" y="106.30" width="1" height="16.40" fill="#089981"/>
<rect x="798" y="107.60" width="2" height="14.70" fill="#089981"/>
<rect x="802.50" y="98.30" width="1" height="10.20" fill="#089981"/>
<rect x="802" y="106.30" width="2" height="2.20" fill="#089981"/>
<rect x="805.50" y="93.00" width="1" height="15.50" fill="#089981"/>
<rect x="805" y="100.00" width="2" height="7.60" fill="#089981"/>
<rect x="809.50" y="92.60" width="1" height="7.90" fill="#089981"/>
<rect x="809" y="93.00" width="2" height="7.50" fill="#089981"/>
<rect x="812.50" y="90.80" width="1" height="16.80" fill="#089981"/>
<rect x="812" y="92.10" width="2" height="1.30" fill="#089981"/>
<rect x="815.50" y="85.90" width="1" height="11.50" fill="#089981"/>
<rect x="815" y="86.30" width="2" height="6.20" fill="#089981"/>
<rect x="819.50" y="71.20" width="1" height="15.10" fill="#089981"/>
<rect x="819" y="78.30" width="2" height="8.00" fill="#089981"/>
<rect x="822.50" y="75.20" width="1" height="6.20" fill="#089981"/>
<rect x="822" y="75.20" width="2" height="4.00" fill="#089981"/>
<rect x="860.50" y="89.00" width="1" height="7.50" fill="#F23645"/>
<rect x="860" y="93.90" width="2" height="2.60" fill="#F23645"/>
<rect x="863.50" y="84.10" width="1" height="16.40" fill="#089981"/>
<rect x="863" y="91.20" width="2" height="5.30" fill="#089981"/>
<rect x="866.50" y="89.90" width="1" height="12.00" fill="#F23645"/>
<rect x="866" y="90.80" width="2" height="6.20" fill="#F23645"/>
<rect x="870.50" y="87.20" width="1" height="27.10" fill="#F23645"/>
<rect x="870" y="97.00" width="2" height="17.30" fill="#F23645"/>
<rect x="873.50" y="107.20" width="1" height="8.60" fill="#089981"/>
<rect x="873" y="110.00" width="2" height="5.30" fill="#089981"/>
<rect x="876.50" y="104.00" width="1" height="6.70" fill="#089981"/>
<rect x="876" y="104.10" width="2" height="6.60" fill="#089981"/>
<rect x="880.50" y="101.30" width="1" height="25.40" fill="#F23645"/>
<rect x="880" y="103.60" width="2" height="22.90" fill="#F23645"/>
<rect x="883.50" y="112.90" width="1" height="16.30" fill="#089981"/>
<rect x="883" y="112.90" width="2" height="13.80" fill="#089981"/>
<rect x="887.50" y="110.20" width="1" height="16.00" fill="#F23645"/>
<rect x="887" y="113.30" width="2" height="12.90" fill="#F23645"/>
<rect x="890.50" y="124.00" width="1" height="32.40" fill="#F23645"/>
<rect x="890" y="125.30" width="2" height="27.10" fill="#F23645"/>
<rect x="893.50" y="132.00" width="1" height="5.00" fill="#089981"/>
<rect x="893" y="132.00" width="2" height="4.90" fill="#089981"/>
<rect x="897.50" y="132.00" width="1" height="21.30" fill="#F23645"/>
<rect x="897" y="132.00" width="2" height="21.30" fill="#F23645"/>
<rect x="900.50" y="148.00" width="1" height="9.80" fill="#089981"/>
<rect x="900" y="151.60" width="2" height="1.30" fill="#089981"/>
<rect x="904.50" y="142.20" width="1" height="20.50" fill="#F23645"/>
<rect x="904" y="151.10" width="2" height="11.60" fill="#F23645"/>
<rect x="907.50" y="156.00" width="1" height="9.80" fill="#F23645"/>
<rect x="907" y="162.20" width="2" height="3.10" fill="#F23645"/>
<rect x="910.50" y="163.10" width="1" height="32.90" fill="#F23645"/>
<rect x="910" y="164.60" width="2" height="22.30" fill="#F23645"/>
<rect x="914.50" y="182.30" width="1" height="18.30" fill="#089981"/>
<rect x="914" y="182.30" width="2" height="4.60" fill="#089981"/>
<rect x="917.50" y="181.10" width="1" height="28.60" fill="#F23645"/>
<rect x="917" y="181.70" width="2" height="23.40" fill="#F23645"/>
<rect x="921.50" y="198.90" width="1" height="13.10" fill="#089981"/>
<rect x="921" y="202.90" width="2" height="1.70" fill="#089981"/>
<rect x="924.50" y="190.30" width="1" height="14.30" fill="#089981"/>
<rect x="924" y="191.40" width="2" height="12.60" fill="#089981"/>
<rect x="927.50" y="205.00" width="1" height="9.50" fill="#F23645"/>
<rect x="927" y="205.10" width="2" height="9.20" fill="#F23645"/>
<rect x="931.50" y="206.90" width="1" height="26.20" fill="#F23645"/>
<rect x="931" y="214.30" width="2" height="17.70" fill="#F23645"/>
<rect x="934.50" y="230.30" width="1" height="11.40" fill="#F23645"/>
<rect x="934" y="230.90" width="2" height="8.00" fill="#F23645"/>
<rect x="937.50" y="212.00" width="1" height="32.00" fill="#089981"/>
<rect x="937" y="213.70" width="2" height="25.20" fill="#089981"/>
<rect x="941.50" y="212.00" width="1" height="34.80" fill="#F23645"/>
<rect x="941" y="212.60" width="2" height="23.80" fill="#F23645"/>
<rect x="944.50" y="202.30" width="1" height="34.80" fill="#089981"/>
<rect x="944" y="212.60" width="2" height="24.50" fill="#089981"/>
<rect x="948.50" y="208.60" width="1" height="14.60" fill="#F23645"/>
<rect x="948" y="208.60" width="2" height="14.30" fill="#F23645"/>
<rect x="951.50" y="221.50" width="1" height="39.50" fill="#F23645"/>
<rect x="951" y="221.70" width="2" height="39.30" fill="#F23645"/>
<rect x="954.50" y="258.50" width="1" height="16.20" fill="#F23645"/>
<rect x="954" y="260.50" width="2" height="13.20" fill="#F23645"/>
<rect x="958.50" y="271.20" width="1" height="22.30" fill="#F23645"/>
<rect x="958" y="272.20" width="2" height="14.70" fill="#F23645"/>
<rect x="961.50" y="286.00" width="1" height="4.00" fill="#F23645"/>
<rect x="961" y="288.00" width="2" height="1.20" fill="#F23645"/>
<rect x="965.50" y="275.80" width="1" height="21.80" fill="#F23645"/>
<rect x="965" y="288.00" width="2" height="6.00" fill="#F23645"/>
<rect x="968.50" y="283.40" width="1" height="11.60" fill="#089981"/>
<rect x="968" y="294.00" width="2" height="1.20" fill="#089981"/>
<rect x="971.50" y="274.20" width="1" height="24.40" fill="#089981"/>
<rect x="971" y="282.40" width="2" height="10.60" fill="#089981"/>
<rect x="975.50" y="266.60" width="1" height="16.30" fill="#089981"/>
<rect x="975" y="268.70" width="2" height="13.70" fill="#089981"/>
<rect x="978.50" y="253.90" width="1" height="23.90" fill="#F23645"/>
<rect x="978" y="269.70" width="2" height="1.20" fill="#F23645"/>
<rect x="982.50" y="270.20" width="1" height="20.80" fill="#F23645"/>
<rect x="982" y="270.20" width="2" height="20.80" fill="#F23645"/>
<rect x="985.50" y="272.70" width="1" height="18.30" fill="#089981"/>
<rect x="985" y="277.30" width="2" height="13.70" fill="#089981"/>
<rect x="988.50" y="267.10" width="1" height="17.80" fill="#F23645"/>
<rect x="988" y="277.30" width="2" height="7.60" fill="#F23645"/>
<rect x="992.50" y="262.00" width="1" height="22.40" fill="#089981"/>
<rect x="992" y="265.60" width="2" height="18.80" fill="#089981"/>
<rect x="826.50" y="173.40" width="1" height="7.20" fill="#089981"/>
<rect x="826" y="174.90" width="2" height="3.80" fill="#089981"/>
<rect x="829.50" y="175.30" width="1" height="14.70" fill="#F23645"/>
<rect x="829" y="175.30" width="2" height="4.20" fill="#F23645"/>
<rect x="832.50" y="167.30" width="1" height="19.80" fill="#089981"/>
<rect x="832" y="167.30" width="2" height="12.20" fill="#089981"/>
<rect x="836.50" y="152.10" width="1" height="15.60" fill="#089981"/>
<rect x="836" y="158.90" width="2" height="8.80" fill="#089981"/>
<rect x="839.50" y="156.30" width="1" height="14.40" fill="#F23645"/>
<rect x="839" y="158.90" width="2" height="8.80" fill="#F23645"/>
<rect x="843.50" y="162.40" width="1" height="8.30" fill="#089981"/>
<rect x="843" y="162.70" width="2" height="5.00" fill="#089981"/>
<rect x="846.50" y="147.10" width="1" height="18.30" fill="#089981"/>
<rect x="846" y="148.30" width="2" height="14.40" fill="#089981"/>
<rect x="849.50" y="139.10" width="1" height="11.80" fill="#F23645"/>
<rect x="849" y="148.70" width="2" height="2.20" fill="#F23645"/>
<rect x="853.50" y="147.10" width="1" height="22.90" fill="#F23645"/>
<rect x="853" y="150.90" width="2" height="17.90" fill="#F23645"/>
<rect x="856.50" y="162.70" width="1" height="17.60" fill="#F23645"/>
<rect x="856" y="168.10" width="2" height="7.60" fill="#F23645"/></g>
<line x1="0" y1="265.2" x2="1133" y2="265.2" stroke="#089981" stroke-width="1" stroke-dasharray="1 2" opacity="0.65"/>
<g stroke-linecap="butt"><line x1="0.0" y1="719.8" x2="1133.0" y2="308.5" stroke="#2962FF" stroke-width="1"/>
<line x1="0.0" y1="423.3" x2="548.6" y2="581.1" stroke="#2962FF" stroke-width="1"/>
<line x1="0.0" y1="494.2" x2="670.3" y2="412.9" stroke="#2962FF" stroke-width="1"/>
<line x1="114.5" y1="565.0" x2="253.0" y2="313.0" stroke="#2962FF" stroke-width="1"/>
<line x1="579.0" y1="510.9" x2="843.2" y2="81.0" stroke="#2962FF" stroke-width="1"/>
<line x1="653.4" y1="99.4" x2="1070.4" y2="192.6" stroke="#2962FF" stroke-width="1"/>
<line x1="758.7" y1="205.2" x2="1060.0" y2="134.5" stroke="#2962FF" stroke-width="1"/>
<line x1="867.1" y1="83.4" x2="1009.7" y2="302.4" stroke="#2962FF" stroke-width="1"/>
<line x1="598.5" y1="233.5" x2="652.0" y2="266.5" stroke="#2962FF" stroke-width="1"/>
<line x1="361.6" y1="465.6" x2="477.1" y2="568.8" stroke="#2962FF" stroke-width="1"/>
<line x1="0.0" y1="585.8" x2="70.0" y2="637.0" stroke="#2962FF" stroke-width="1"/>
<line x1="0.0" y1="691.4" x2="29.8" y2="703.0" stroke="#2962FF" stroke-width="1"/></g>
<rect x="0" y="53" width="1133" height="2" fill="#2962FF"/>
<rect x="0" y="424" width="1133" height="2" fill="#2962FF"/>
<rect x="0" y="482" width="1133" height="2" fill="#87a6ff"/>
<rect x="0" y="721" width="1133" height="2" fill="#87a6ff"/>
<rect x="0" y="754" width="1133" height="2" fill="#87a6ff"/>
<g fill="#111111">
<path d="M11.85 728.1 H25.6 V745.6 H19 V734.8 H11.85 Z"/>
<circle cx="31.65" cy="731.6" r="3.45"/>
<path d="M38.8 728.1 H46.5 L39.9 745.6 H32 Z"/>
<text x="55" y="745.5" font-family="Liberation Sans" font-weight="bold" font-size="23.6" textLength="140.8" lengthAdjust="spacingAndGlyphs">TradingView</text>
</g>
<rect x="1134" y="0" width="66" height="788" fill="#ffffff"/>
<rect x="0" y="763" width="1134" height="25" fill="#ffffff"/>
<text x="1144.20" y="16.46" font-family="Liberation Sans" font-size="14.50" fill="#464953" font-weight="normal" textLength="50.80" lengthAdjust="spacingAndGlyphs">3 050,00</text>
<text x="1144.20" y="57.70" font-family="Liberation Sans" font-size="14.50" fill="#464953" font-weight="normal" textLength="50.80" lengthAdjust="spacingAndGlyphs">3 025,00</text>
<text x="1144.20" y="98.94" font-family="Liberation Sans" font-size="14.50" fill="#464953" font-weight="normal" textLength="50.80" lengthAdjust="spacingAndGlyphs">3 000,00</text>
<text x="1144.20" y="140.19" font-family="Liberation Sans" font-size="14.50" fill="#464953" font-weight="normal" textLength="50.80" lengthAdjust="spacingAndGlyphs">2 975,00</text>
<text x="1144.20" y="181.44" font-family="Liberation Sans" font-size="14.50" fill="#464953" font-weight="normal" textLength="50.80" lengthAdjust="spacingAndGlyphs">2 950,00</text>
<text x="1144.20" y="222.68" font-family="Liberation Sans" font-size="14.50" fill="#464953" font-weight="normal" textLength="50.80" lengthAdjust="spacingAndGlyphs">2 925,00</text>
<text x="1144.20" y="263.93" font-family="Liberation Sans" font-size="14.50" fill="#464953" font-weight="normal" textLength="50.80" lengthAdjust="spacingAndGlyphs">2 900,00</text>
<text x="1144.20" y="305.17" font-family="Liberation Sans" font-size="14.50" fill="#464953" font-weight="normal" textLength="50.80" lengthAdjust="spacingAndGlyphs">2 875,00</text>
<text x="1144.20" y="346.42" font-family="Liberation Sans" font-size="14.50" fill="#464953" font-weight="normal" textLength="50.80" lengthAdjust="spacingAndGlyphs">2 850,00</text>
<text x="1144.20" y="387.66" font-family="Liberation Sans" font-size="14.50" fill="#464953" font-weight="normal" textLength="50.80" lengthAdjust="spacingAndGlyphs">2 825,00</text>
<text x="1144.20" y="428.91" font-family="Liberation Sans" font-size="14.50" fill="#464953" font-weight="normal" textLength="50.80" lengthAdjust="spacingAndGlyphs">2 800,00</text>
<text x="1144.20" y="470.15" font-family="Liberation Sans" font-size="14.50" fill="#464953" font-weight="normal" textLength="50.80" lengthAdjust="spacingAndGlyphs">2 775,00</text>
<text x="1144.20" y="511.40" font-family="Liberation Sans" font-size="14.50" fill="#464953" font-weight="normal" textLength="50.80" lengthAdjust="spacingAndGlyphs">2 750,00</text>
<text x="1144.20" y="552.64" font-family="Liberation Sans" font-size="14.50" fill="#464953" font-weight="normal" textLength="50.80" lengthAdjust="spacingAndGlyphs">2 725,00</text>
<text x="1144.20" y="593.88" font-family="Liberation Sans" font-size="14.50" fill="#464953" font-weight="normal" textLength="50.80" lengthAdjust="spacingAndGlyphs">2 700,00</text>
<text x="1144.20" y="635.13" font-family="Liberation Sans" font-size="14.50" fill="#464953" font-weight="normal" textLength="50.80" lengthAdjust="spacingAndGlyphs">2 675,00</text>
<text x="1144.20" y="676.38" font-family="Liberation Sans" font-size="14.50" fill="#464953" font-weight="normal" textLength="50.80" lengthAdjust="spacingAndGlyphs">2 650,00</text>
<text x="1144.20" y="717.62" font-family="Liberation Sans" font-size="14.50" fill="#464953" font-weight="normal" textLength="50.80" lengthAdjust="spacingAndGlyphs">2 625,00</text>
<path d="M1134 43.9 H1197 Q1200 43.9 1200 46.9 V61.9 Q1200 64.9 1197 64.9 H1134 Z" fill="#2962FF"/><text x="1144.20" y="59.00" font-family="Liberation Sans" font-size="14.50" fill="#ffffff" font-weight="600" textLength="50.80" lengthAdjust="spacingAndGlyphs">3 025,00</text><path d="M1134 414.7 H1197 Q1200 414.7 1200 417.7 V432.7 Q1200 435.7 1197 435.7 H1134 Z" fill="#2962FF"/><text x="1144.20" y="429.80" font-family="Liberation Sans" font-size="14.50" fill="#ffffff" font-weight="600" textLength="50.80" lengthAdjust="spacingAndGlyphs">2 800,00</text><path d="M1134 472.4 H1197 Q1200 472.4 1200 475.4 V490.4 Q1200 493.4 1197 493.4 H1134 Z" fill="#2962FF"/><text x="1144.20" y="487.50" font-family="Liberation Sans" font-size="14.50" fill="#ffffff" font-weight="600" textLength="50.80" lengthAdjust="spacingAndGlyphs">2 765,00</text><path d="M1134 711.5 H1197 Q1200 711.5 1200 714.5 V729.5 Q1200 732.5 1197 732.5 H1134 Z" fill="#2962FF"/><text x="1144.20" y="726.60" font-family="Liberation Sans" font-size="14.50" fill="#ffffff" font-weight="600" textLength="50.80" lengthAdjust="spacingAndGlyphs">2 620,00</text><path d="M1134 741.8 H1197 Q1200 741.8 1200 744.8 V759.8 Q1200 762.8 1197 762.8 H1134 Z" fill="#2962FF"/><text x="1144.20" y="756.90" font-family="Liberation Sans" font-size="14.50" fill="#ffffff" font-weight="600" textLength="50.80" lengthAdjust="spacingAndGlyphs">2 600,00</text>
<rect x="1134" y="762" width="66" height="26" fill="#ffffff"/>
<path d="M1098 255 H1197 Q1200 255 1200 258 V272.5 Q1200 275.5 1197 275.5 H1098 Q1095 275.5 1095 272.5 V258 Q1095 255 1098 255 Z" fill="#24a394"/>
<text x="1099.80" y="270.20" font-family="Liberation Sans" font-size="13.50" fill="#ffffff" font-weight="600" textLength="27.20" lengthAdjust="spacingAndGlyphs">IRUS</text>
<text x="1144.20" y="270.20" font-family="Liberation Sans" font-size="13.50" fill="#ffffff" font-weight="600" textLength="50.80" lengthAdjust="spacingAndGlyphs">2 896,76</text>
<rect x="1133" y="0" width="1" height="788" fill="#72757f"/>
<rect x="0" y="762" width="1200" height="1" fill="#72757f"/>
<g font-family="Liberation Sans" font-size="13.5" fill="#464953"><text x="47.4" y="783.3" text-anchor="middle">16</text>
<text x="115.2" y="783.3" text-anchor="middle">18</text>
<text x="182.9" y="783.3" text-anchor="middle">22</text>
<text x="250.7" y="783.3" text-anchor="middle">24</text>
<text x="318.4" y="783.3" text-anchor="middle">28</text>
<text x="386.2" y="783.3" text-anchor="middle">30</text>
<text x="454.0" y="783.3" text-anchor="middle" font-weight="bold">Авг</text>
<text x="521.7" y="783.3" text-anchor="middle">5</text>
<text x="589.5" y="783.3" text-anchor="middle">7</text>
<text x="657.2" y="783.3" text-anchor="middle">11</text>
<text x="725.0" y="783.3" text-anchor="middle">13</text>
<text x="792.8" y="783.3" text-anchor="middle">15</text>
<text x="860.5" y="783.3" text-anchor="middle">19</text>
<text x="928.3" y="783.3" text-anchor="middle">21</text>
<text x="996.0" y="783.3" text-anchor="middle">25</text>
<text x="1063.8" y="783.3" text-anchor="middle">27</text></g>
<path d="M1165.5 772.5 H1174.5 L1178 779 L1174.5 785.5 H1165.5 L1162 779 Z" fill="none" stroke="#131722" stroke-width="1.1"/><circle cx="1169.8" cy="779.2" r="2.4" fill="none" stroke="#131722" stroke-width="1.1"/>
<rect x="1137.5" y="-4" width="61.5" height="32.5" rx="5" fill="#ffffff" stroke="#eef0f4" stroke-width="1"/>
<text x="1141.80" y="18.70" font-family="Liberation Sans" font-size="14.50" fill="#131722" font-weight="normal" textLength="24.80" lengthAdjust="spacingAndGlyphs">RUB</text>
<path d="M1189.5 12.5 L1192.2 15.2 L1194.9 12.5" fill="none" stroke="#131722" stroke-width="1.3"/>
<clipPath id="fc"><circle cx="18.4" cy="13.6" r="10.5"/></clipPath>
<g clip-path="url(#fc)"><rect x="7" y="2" width="23" height="8.3" fill="#f0f2f7"/><rect x="7" y="10.2" width="23" height="6.9" fill="#2f7ded"/><rect x="7" y="17" width="23" height="9" fill="#eb4c4c"/></g>
<text x="34.40" y="20.00" font-family="Liberation Sans" font-size="18.60" fill="#4d505a" font-weight="normal" textLength="61.40" lengthAdjust="spacingAndGlyphs">Индекс</text>
<text x="102.80" y="20.00" font-family="Liberation Sans" font-size="18.60" fill="#4d505a" font-weight="normal" textLength="88.20" lengthAdjust="spacingAndGlyphs">МосБиржи</text>
<circle cx="198.8" cy="14.6" r="1.6" fill="#1a1a1a"/>
<text x="207.80" y="20.00" font-family="Liberation Sans" font-size="18.60" fill="#4d505a" font-weight="normal" textLength="17.40" lengthAdjust="spacingAndGlyphs">1ч</text>
<circle cx="232.6" cy="14.6" r="1.6" fill="#1a1a1a"/>
<text x="241.00" y="20.00" font-family="Liberation Sans" font-size="18.60" fill="#4d505a" font-weight="normal" textLength="30.50" lengthAdjust="spacingAndGlyphs">RUS</text>
<path d="M300.4 2.9 H313 V23.9 H300.4 A10.5 10.5 0 0 1 300.4 2.9 Z" fill="#efefef"/>
<path d="M313 2.9 H325.8 A10.5 10.5 0 0 1 325.8 23.9 H313 Z" fill="#f4b8d1"/>
<rect x="296" y="11.2" width="12" height="4.5" rx="2.25" fill="#8e8e8e"/>
<path d="M318.6 12.4 C319.8 9.4 322.2 9.6 323.4 11.1 C324.6 12.6 327 12.8 328.2 9.8 M318.6 16.6 C319.8 13.6 322.2 13.8 323.4 15.3 C324.6 16.8 327 17 328.2 14.0" fill="none" stroke="#e0195f" stroke-width="1.7" stroke-linecap="round"/>
<text x="356.10" y="18.60" font-family="Liberation Sans" font-size="15.00" fill="#434651" font-weight="normal" textLength="36.50" lengthAdjust="spacingAndGlyphs">ОТКР</text>
<text x="392.60" y="18.60" font-family="Liberation Sans" font-size="15.00" fill="#089981" font-weight="normal" textLength="56.90" lengthAdjust="spacingAndGlyphs">2 885,23</text>
<text x="457.10" y="18.60" font-family="Liberation Sans" font-size="15.00" fill="#434651" font-weight="normal" textLength="38.80" lengthAdjust="spacingAndGlyphs">МАКС</text>
<text x="495.50" y="18.60" font-family="Liberation Sans" font-size="15.00" fill="#089981" font-weight="normal" textLength="56.40" lengthAdjust="spacingAndGlyphs">2 898,76</text>
<text x="559.60" y="18.60" font-family="Liberation Sans" font-size="15.00" fill="#434651" font-weight="normal" textLength="31.60" lengthAdjust="spacingAndGlyphs">МИН</text>
<text x="591.20" y="18.60" font-family="Liberation Sans" font-size="15.00" fill="#089981" font-weight="normal" textLength="56.50" lengthAdjust="spacingAndGlyphs">2 885,05</text>
<text x="655.00" y="18.60" font-family="Liberation Sans" font-size="15.00" fill="#434651" font-weight="normal" textLength="34.70" lengthAdjust="spacingAndGlyphs">ЗАКР</text>
<text x="690.00" y="18.60" font-family="Liberation Sans" font-size="15.00" fill="#089981" font-weight="normal" textLength="56.30" lengthAdjust="spacingAndGlyphs">2 896,76</text>
<text x="754.60" y="18.60" font-family="Liberation Sans" font-size="15.00" fill="#089981" font-weight="normal" textLength="106.80" lengthAdjust="spacingAndGlyphs">+11,58 (+0,40%)</text>
<rect x="5.8" y="32" width="34.6" height="22.5" rx="4" fill="#ffffff" stroke="#e6e8ee" stroke-width="1"/>
<path d="M12.3 40.6 L16.2 44.4 L20.1 40.6" fill="none" stroke="#131722" stroke-width="1.4"/>
<text x="27.6" y="48" font-family="Liberation Sans" font-size="14.5" fill="#131722">9</text>
</svg>
</body></html>
